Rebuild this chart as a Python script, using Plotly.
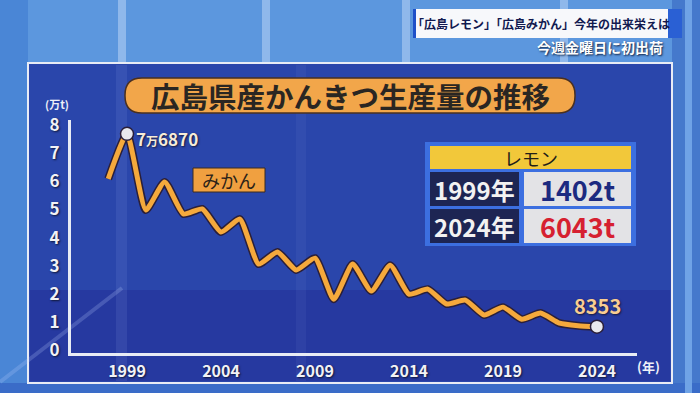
import plotly.graph_objects as go

# ---------------- data ----------------
years = list(range(1998, 2025))
mikan = [6.09, 7.687, 4.98, 5.98, 4.84, 5.02, 4.20, 4.66, 3.06, 3.49, 2.85, 3.27,
         1.81, 3.06, 2.10, 3.02, 1.99, 2.17, 1.64, 1.78, 1.25, 1.53, 1.10, 1.32,
         0.96, 0.87, 0.8353]
tick_years = [1999, 2004, 2009, 2014, 2019, 2024]
y_ticks = [0, 1, 2, 3, 4, 5, 6, 7, 8]
peak_label = "7<span style='font-size:12px'>万</span>6870"
last_label = "8353"
series_name = "みかん"
title_text = "広島県産かんきつ生産量の推移"
lemon_title = "レモン"
lemon_years = ["1999年", "2024年"]
lemon_vals = ["1402t", "6043t"]
caption1 = "「広島レモン」「広島みかん」今年の出来栄えは"
caption2 = "今週金曜日に初出荷"

FONT = "Noto Sans CJK JP"
W, H = 700, 393
L, R, T, B = 71, 637, 120, 353  # plot area in pixels


def px(x):
    return (x - L) / (R - L)


def py(y):
    return (B - y) / (B - T)


fig = go.Figure()

# dark outline under the line
fig.add_trace(go.Scatter(x=years, y=mikan, mode="lines",
                         line=dict(color="#2a1f3a", width=8, shape="spline", smoothing=0.5),
                         hoverinfo="skip", showlegend=False))
fig.add_trace(go.Scatter(x=years, y=mikan, mode="lines",
                         line=dict(color="#f5a93c", width=5, shape="spline", smoothing=0.5),
                         showlegend=False))
fig.add_trace(go.Scatter(x=[years[1], years[-1]], y=[mikan[1], mikan[-1]], mode="markers",
                         marker=dict(size=13, color="#e9e9ee", line=dict(color="#2a1f3a", width=1.5)),
                         showlegend=False))

shapes = []


def rect(x0, y0, x1, y1, fill, line=None, lw=0, layer="below", opacity=1):
    shapes.append(dict(type="rect", xref="paper", yref="paper",
                       x0=px(x0), x1=px(x1), y0=py(y1), y1=py(y0),
                       fillcolor=fill, line=dict(color=line or fill, width=lw),
                       layer=layer, opacity=opacity))


# background stripes / regions
rect(0, 0, 700, 63, "#5c97de")
rect(0, 0, 28, 393, "#4a86d6")
rect(672, 0, 700, 393, "#4579cc")
rect(0, 383, 700, 393, "#3a6cc8")
rect(685, 0, 692, 393, "#6fa3e6")
for sx in (118, 262, 402, 560):
    rect(sx, 0, sx + 8, 63, "rgba(220,235,255,0.40)")

# panel
rect(28, 63, 672, 383, "#2a46ab", line="#e8ecf5", lw=2)
rect(30, 290, 670, 381, "#2639a0")
rect(116, 65, 127, 381, "rgba(180,200,255,0.10)")
rect(296, 65, 306, 381, "rgba(180,200,255,0.06)")
shapes.append(dict(type="line", xref="paper", yref="paper",
                   x0=px(0), y0=py(382), x1=px(122), y1=py(288),
                   line=dict(color="rgba(190,210,255,0.22)", width=4), layer="below"))


# rounded pill for title
def pill(x0, y0, x1, y1, r, fill, line, lw):
    pts = [
        ("M", x0 + r, y0), ("L", x1 - r, y0), ("Q", x1, y0, x1, y0 + r), ("L", x1, y1 - r),
        ("Q", x1, y1, x1 - r, y1), ("L", x0 + r, y1), ("Q", x0, y1, x0, y1 - r),
        ("L", x0, y0 + r), ("Q", x0, y0, x0 + r, y0),
    ]
    d = ""
    for p in pts:
        if p[0] == "Q":
            d += f"Q{px(p[1])},{py(p[2])} {px(p[3])},{py(p[4])} "
        else:
            d += f"{p[0]}{px(p[1])},{py(p[2])} "
    d += "Z"
    shapes.append(dict(type="path", xref="paper", yref="paper", path=d,
                       fillcolor=fill, line=dict(color=line, width=lw), layer="above"))


pill(125, 78, 575, 113, 17, "#f2a64a", "#4a3020", 1.5)

# みかん label box
rect(193, 168, 265, 192, "#f0a040", line="#3a2a20", lw=1, layer="above")

# lemon table
rect(425, 142, 636, 246, "#3c6fe0", layer="above")
rect(430, 146, 631, 169, "#f2c83a", layer="above")
rect(430, 172, 519, 206, "#1d2553", layer="above")
rect(524, 172, 631, 206, "#e3e3e6", layer="above")
rect(430, 209, 519, 243, "#1d2553", layer="above")
rect(524, 209, 631, 243, "#e3e3e6", layer="above")

# caption boxes
rect(413, 9, 668, 38, "#f7f8fb", layer="above")
rect(413, 9, 416, 38, "#1e50c8", layer="above")
rect(668, 9, 682, 38, "#2a60d4", layer="above")

anns = []


def text(x, y, s, size, color, xanchor="center", shadow="none", weight="bold"):
    anns.append(dict(xref="paper", yref="paper", x=px(x), y=py(y), text=s,
                     showarrow=False, xanchor=xanchor, yanchor="middle",
                     font=dict(family=FONT, size=size, color=color, weight=weight, shadow=shadow)))


text(350, 95.5, title_text, 28.5, "#2a2622")
text(229, 180, series_name, 18, "#2a2218", weight="normal")
text(167, 138.5, peak_label, 17, "#f6ecd8", shadow="1px 1px 2px #1a1a3a")
text(597, 305.5, last_label, 20, "#f9cd92", shadow="1px 1px 2px #1a1a3a")
text(57, 104, "(万t)", 11, "#eef0f8")
text(648, 366, "(年)", 13, "#eef0f8")

text(530.5, 157.5, lemon_title, 18, "#222018", weight="normal")
text(474.5, 189, lemon_years[0], 24, "#f2f2f2")
text(474.5, 226, lemon_years[1], 24, "#f2f2f2")
text(577.5, 189, lemon_vals[0], 27, "#1c2a80")
text(577.5, 226, lemon_vals[1], 27, "#d62030")

text(541, 23.5, caption1, 12, "#121a50")
text(665, 47, caption2, 14, "#ffffff", xanchor="right", shadow="1px 1px 2px #102040")

fig.update_layout(
    width=W, height=H, autosize=False,
    margin=dict(l=L, r=W - R, t=T, b=H - B, pad=0),
    paper_bgcolor="#4d88d8", plot_bgcolor="rgba(0,0,0,0)",
    showlegend=False, shapes=shapes, annotations=anns,
    xaxis=dict(range=[1996.02, 2026.13], tickvals=tick_years, showgrid=False, zeroline=False,
               showline=True, linecolor="#e8ecf5", linewidth=3, ticks="",
               tickfont=dict(family=FONT, size=16, color="#f2f2f6", weight="bold",
                             shadow="1px 1px 2px #101838"),
               ticklabelstandoff=2, fixedrange=True),
    yaxis=dict(range=[-0.1, 8.18], tickvals=y_ticks, showgrid=False, zeroline=False,
               showline=True, linecolor="#e8ecf5", linewidth=3, ticks="",
               tickfont=dict(family=FONT, size=17, color="#f2f2f6", weight="bold",
                             shadow="1px 1px 2px #101838"),
               ticklabelstandoff=5, fixedrange=True),
)

fig.write_html("out.html", config={"displayModeBar": False},
               post_script="document.body.style.margin='0px';")
